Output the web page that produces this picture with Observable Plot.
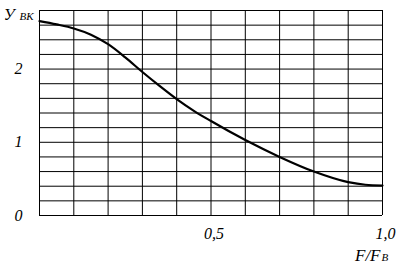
<!DOCTYPE html>
<html>
<head>
<meta charset="utf-8">
<script src="https://cdn.jsdelivr.net/npm/d3@7"></script>
<script src="https://cdn.jsdelivr.net/npm/@observablehq/plot@0.6"></script>
<style>
  html, body { margin: 0; padding: 0; background: #fff; }
  svg { display: block; }
  svg text { font-family: "Liberation Serif", "Times New Roman", serif !important; }
</style>
</head>
<body>
<div id="chart"></div>
<script>
const xValues = [0, 0.05, 0.1, 0.15, 0.2, 0.25, 0.3, 0.35, 0.4, 0.45, 0.5, 0.6, 0.7, 0.8, 0.9, 0.95, 1.0];
const yValues = [2.655, 2.61, 2.555, 2.47, 2.34, 2.16, 1.96, 1.77, 1.59, 1.43, 1.29, 1.03, 0.80, 0.60, 0.455, 0.42, 0.41];
const xGrid = [0, 0.1, 0.2, 0.3, 0.4, 0.5, 0.6, 0.7, 0.8, 0.9, 1.0];
const yGrid = [0, 0.2, 0.4, 0.6, 0.8, 1.0, 1.2, 1.4, 1.6, 1.8, 2.0, 2.2, 2.4, 2.6, 2.8];
const xTicks = [0.5, 1.0];
const xTickLabels = ["0,5", "1,0"];
const yTicks = [0, 1, 2];
const yTickLabels = ["0", "1", "2"];

const curve = xValues.map((x, i) => ({x, y: yValues[i]}));
const font = "'Liberation Serif', 'Times New Roman', serif";

const chart = Plot.plot({
  width: 403,
  height: 270,
  marginLeft: 39,
  marginRight: 21,
  marginTop: 10,
  marginBottom: 55,
  x: {domain: [0, 1], axis: null},
  y: {domain: [0, 2.8], axis: null},
  style: {fontFamily: font, background: "#fff"},
  marks: [
    Plot.ruleX(xGrid, {stroke: "#000", strokeWidth: 1}),
    Plot.ruleY(yGrid, {stroke: "#000", strokeWidth: 1}),
    Plot.line(curve, {x: "x", y: "y", curve: "monotone-x", stroke: "#000", strokeWidth: 2.2}),
    Plot.text(yTicks, {x: 0, y: d => d, text: (d, i) => yTickLabels[i], dx: -17, textAnchor: "end", fontFamily: font, fontSize: 16, fontStyle: "italic", fill: "#000"}),
    Plot.text(xTicks, {x: d => d, y: 0, text: (d, i) => xTickLabels[i], dx: 3, dy: 18, fontFamily: font, fontSize: 16, fontStyle: "italic", fill: "#000"}),
    Plot.text(["У"], {x: 0, y: 2.8, text: d => d, dx: -25, dy: 4, textAnchor: "end", fontFamily: font, fontSize: 16, fontStyle: "italic", fill: "#000"}),
    Plot.text(["ВК"], {x: 0, y: 2.8, text: d => d, dx: -6, dy: 6, textAnchor: "end", fontFamily: font, fontSize: 11, fontStyle: "italic", fill: "#000"}),
    Plot.text(["F/F"], {x: 1, y: 0, text: d => d, dx: -2, dy: 40, textAnchor: "end", fontFamily: font, fontSize: 17, fontStyle: "italic", fill: "#000"}),
    Plot.text(["В"], {x: 1, y: 0, text: d => d, dx: -1, dy: 42, textAnchor: "start", fontFamily: font, fontSize: 11, fontStyle: "italic", fill: "#000"})
  ]
});
document.getElementById("chart").appendChild(chart);
</script>
</body>
</html>
